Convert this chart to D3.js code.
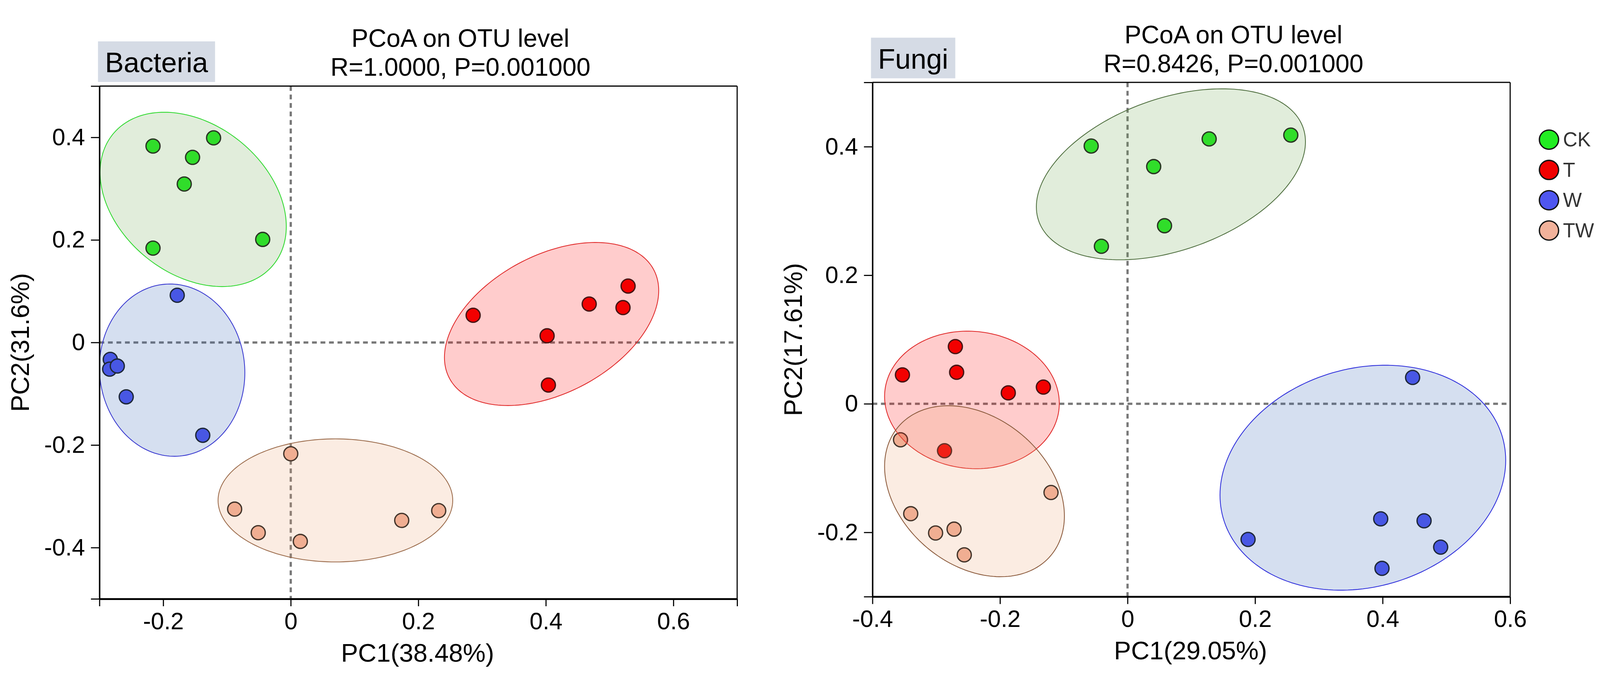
<!DOCTYPE html>
<html>
<head>
<meta charset="utf-8">
<script src="https://cdn.jsdelivr.net/npm/d3@7"></script>
<style>
  html, body { margin: 0; padding: 0; background: #fff; overflow: hidden; }
  svg { display: block; width: 100vw; height: 100vh; }
  text { font-family: "Liberation Sans", Arial, sans-serif; }
</style>
</head>
<body>
<div id="chart"></div>
<script>
// groups and legend
const groups = ["CK", "T", "W", "TW"];

// bacteria panel: sample scores [PC1, PC2]
const bacteriaCK = [[-0.216, 0.383], [-0.154, 0.361], [-0.121, 0.399], [-0.167, 0.309], [-0.216, 0.184], [-0.044, 0.201]];
const bacteriaT  = [[0.286, 0.053], [0.402, 0.013], [0.468, 0.075], [0.521, 0.068], [0.529, 0.110], [0.404, -0.083]];
const bacteriaW  = [[-0.178, 0.092], [-0.283, -0.033], [-0.284, -0.052], [-0.272, -0.046], [-0.258, -0.106], [-0.138, -0.181]];
const bacteriaTW = [[0.000, -0.217], [-0.088, -0.325], [-0.051, -0.371], [0.015, -0.388], [0.174, -0.347], [0.232, -0.328]];
// ellipses: [centre PC1, centre PC2, half width, half height, correlation]
const bacteriaEllipses = [
  [-0.153, 0.279, 0.146, 0.170, -0.31],
  [0.409, 0.036, 0.168, 0.159, 0.41],
  [-0.186, -0.054, 0.114, 0.168, -0.03],
  [0.070, -0.308, 0.184, 0.120, 0.0]
];
const bacteriaXDomain = [-0.3, 0.7];
const bacteriaYDomain = [-0.5, 0.5];
const bacteriaXTicks = [-0.2, 0, 0.2, 0.4, 0.6];
const bacteriaYTicks = [-0.4, -0.2, 0, 0.2, 0.4];

// fungi panel
const fungiCK = [[-0.057, 0.401], [0.041, 0.369], [0.058, 0.277], [-0.041, 0.245], [0.128, 0.412], [0.256, 0.418]];
const fungiT  = [[-0.270, 0.089], [-0.353, 0.045], [-0.268, 0.049], [-0.187, 0.017], [-0.132, 0.026], [-0.287, -0.073]];
const fungiW  = [[0.447, 0.041], [0.397, -0.179], [0.465, -0.182], [0.189, -0.211], [0.491, -0.223], [0.399, -0.256]];
const fungiTW = [[-0.356, -0.056], [-0.120, -0.138], [-0.340, -0.171], [-0.301, -0.201], [-0.272, -0.195], [-0.256, -0.235]];
const fungiEllipses = [
  [0.068, 0.357, 0.211, 0.133, 0.38],
  [-0.244, 0.006, 0.137, 0.107, -0.05],
  [0.369, -0.115, 0.224, 0.175, 0.155],
  [-0.240, -0.136, 0.141, 0.133, -0.29]
];
const fungiXDomain = [-0.4, 0.6];
const fungiYDomain = [-0.3, 0.5];
const fungiXTicks = [-0.4, -0.2, 0, 0.2, 0.4, 0.6];
const fungiYTicks = [-0.2, 0, 0.2, 0.4];

// styles
const pointFill = ["#22ec22", "#f00000", "#4f56f0", "#f2b29b"];
const ellipseFill = ["#69a54b", "#ff0000", "#2d5fb4", "#eba06e"];
const ellipseOpacity = [0.2, 0.2, 0.2, 0.2];
const bacteriaStroke = ["#2fd92f", "#e02a2a", "#3a3ad0", "#9b6b4b"];
const fungiStroke = ["#4f6f3f", "#e02a2a", "#2f2fdc", "#8b5a3c"];

const W = 4328, H = 1765;
const svg = d3.select("#chart").append("svg")
  .attr("viewBox", "0 0 " + W + " " + H)
  .attr("preserveAspectRatio", "xMidYMid meet");

function drawPanel(p) {
  const x = d3.scaleLinear().domain(p.xDomain).range([p.x0, p.x1]);
  const y = d3.scaleLinear().domain(p.yDomain).range([p.y1, p.y0]);
  const g = svg.append("g");

  const clipId = "clip-" + p.label;
  g.append("clipPath").attr("id", clipId)
    .append("rect")
    .attr("x", p.x0).attr("y", p.y0)
    .attr("width", p.x1 - p.x0).attr("height", p.y1 - p.y0);

  const inner = g.append("g").attr("clip-path", "url(#" + clipId + ")");

  // zero reference lines
  inner.append("line")
    .attr("x1", x(0)).attr("x2", x(0))
    .attr("y1", p.y0).attr("y2", p.y1)
    .attr("stroke", "#777").attr("stroke-width", 6)
    .attr("stroke-dasharray", "13,10");
  inner.append("line")
    .attr("x1", p.x0).attr("x2", p.x1)
    .attr("y1", y(0)).attr("y2", y(0))
    .attr("stroke", "#777").attr("stroke-width", 6)
    .attr("stroke-dasharray", "13,10");

  // points first, ellipses drawn over them with transparency
  p.series.forEach((pts, i) => {
    inner.selectAll(null)
      .data(pts)
      .enter().append("circle")
      .attr("cx", d => x(d[0]))
      .attr("cy", d => y(d[1]))
      .attr("r", 19)
      .attr("fill", pointFill[i])
      .attr("stroke", "#1a1a1a")
      .attr("stroke-width", 3.5);
  });

  const angles = d3.range(0, 360, 2).map(a => a * Math.PI / 180);
  p.ellipses.forEach((e, i) => {
    const [cx, cy, sx, sy, rho] = e;
    const k = Math.sqrt(1 - rho * rho);
    const line = d3.line()
      .x(t => x(cx + sx * Math.cos(t)))
      .y(t => y(cy + sy * (rho * Math.cos(t) + k * Math.sin(t))))
      .curve(d3.curveLinearClosed);
    inner.append("path")
      .attr("d", line(angles))
      .attr("fill", ellipseFill[i])
      .attr("fill-opacity", ellipseOpacity[i])
      .attr("stroke", p.stroke[i])
      .attr("stroke-width", 2.2);
  });

  // axes
  const xVals = Array.from(new Set([p.xDomain[0], ...p.xTicks, p.xDomain[1]]));
  const yVals = Array.from(new Set([p.yDomain[0], ...p.yTicks, p.yDomain[1]]));

  const xAxis = g.append("g")
    .attr("transform", "translate(0," + p.y1 + ")")
    .call(d3.axisBottom(x)
      .tickValues(xVals)
      .tickFormat(d => p.xTicks.includes(d) ? String(d) : "")
      .tickSize(20).tickSizeOuter(0).tickPadding(17));
  xAxis.select(".domain").attr("stroke", "#000").attr("stroke-width", 5);
  xAxis.selectAll(".tick line").attr("stroke", "#000").attr("stroke-width", 3);
  xAxis.selectAll(".tick text")
    .attr("fill", "#000").attr("font-size", 64)
    .attr("font-family", "Liberation Sans, Arial, sans-serif");

  const yAxis = g.append("g")
    .attr("transform", "translate(" + p.x0 + ",0)")
    .call(d3.axisLeft(y)
      .tickValues(yVals)
      .tickFormat(d => p.yTicks.includes(d) ? String(d) : "")
      .tickSize(23).tickSizeOuter(0).tickPadding(16));
  yAxis.select(".domain").attr("stroke", "#000").attr("stroke-width", 4);
  yAxis.selectAll(".tick line").attr("stroke", "#000").attr("stroke-width", 3);
  yAxis.selectAll(".tick text")
    .attr("fill", "#000").attr("font-size", 64)
    .attr("font-family", "Liberation Sans, Arial, sans-serif");

  // top and right frame
  g.append("line")
    .attr("x1", p.x0).attr("x2", p.x1)
    .attr("y1", p.y0).attr("y2", p.y0)
    .attr("stroke", "#000").attr("stroke-width", 3);
  g.append("line")
    .attr("x1", p.x1).attr("x2", p.x1)
    .attr("y1", p.y0).attr("y2", p.y1)
    .attr("stroke", "#000").attr("stroke-width", 3);

  // panel tag
  const tag = g.append("g");
  const tagRect = tag.append("rect")
    .attr("x", p.x0 - 4).attr("y", p.y0 - 121)
    .attr("height", 110)
    .attr("fill", "#d5dbe5");
  const tagText = tag.append("text")
    .attr("x", p.x0 - 4 + 19).attr("y", p.y0 - 37)
    .attr("font-size", 76).attr("fill", "#000")
    .text(p.label);
  tagRect.attr("width", tagText.node().getComputedTextLength() + 38);

  // titles
  const tx = (p.x0 + p.x1) / 2 + 114;
  g.append("text")
    .attr("x", tx).attr("y", p.y0 - 106)
    .attr("text-anchor", "middle").attr("font-size", 68)
    .text("PCoA on OTU level");
  g.append("text")
    .attr("x", tx).attr("y", p.y0 - 28)
    .attr("text-anchor", "middle").attr("font-size", 68)
    .text(p.stat);

  g.append("text")
    .attr("x", (p.x0 + p.x1) / 2 - 2).attr("y", p.y1 + 170)
    .attr("text-anchor", "middle").attr("font-size", 69)
    .text(p.xLabel);
  g.append("text")
    .attr("transform", "translate(" + (p.x0 - 191) + "," + ((p.y0 + p.y1) / 2) + ") rotate(-90)")
    .attr("text-anchor", "middle").attr("font-size", 69)
    .text(p.yLabel);
}

drawPanel({
  label: "Bacteria", stat: "R=1.0000, P=0.001000",
  xLabel: "PC1(38.48%)", yLabel: "PC2(31.6%)",
  x0: 269, x1: 1994, y0: 183, y1: 1571,
  xDomain: bacteriaXDomain, yDomain: bacteriaYDomain,
  xTicks: bacteriaXTicks, yTicks: bacteriaYTicks,
  series: [bacteriaCK, bacteriaT, bacteriaW, bacteriaTW],
  ellipses: bacteriaEllipses, stroke: bacteriaStroke
});

drawPanel({
  label: "Fungi", stat: "R=0.8426, P=0.001000",
  xLabel: "PC1(29.05%)", yLabel: "PC2(17.61%)",
  x0: 2360, x1: 4085, y0: 173, y1: 1565,
  xDomain: fungiXDomain, yDomain: fungiYDomain,
  xTicks: fungiXTicks, yTicks: fungiYTicks,
  series: [fungiCK, fungiT, fungiW, fungiTW],
  ellipses: fungiEllipses, stroke: fungiStroke
});

// legend
const legend = svg.append("g").attr("transform", "translate(4190,328)");
groups.forEach((name, i) => {
  legend.append("circle")
    .attr("cx", 0).attr("cy", i * 82).attr("r", 26)
    .attr("fill", pointFill[i])
    .attr("stroke", "#111").attr("stroke-width", 3.5);
  legend.append("text")
    .attr("x", 38).attr("y", i * 82)
    .attr("dominant-baseline", "central")
    .attr("font-size", 54).attr("fill", "#333")
    .text(name);
});
</script>
</body>
</html>
